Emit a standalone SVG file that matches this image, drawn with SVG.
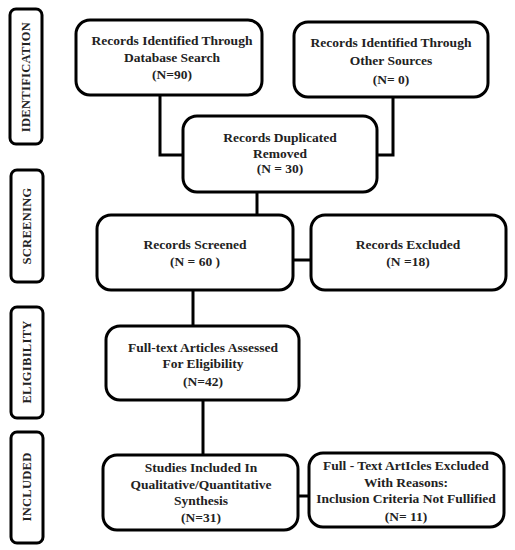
<svg xmlns="http://www.w3.org/2000/svg" width="515" height="550" viewBox="0 0 515 550">
<style>
.box{fill:#fff;stroke:#000;stroke-width:3;}
.side{fill:#fff;stroke:#000;stroke-width:3;}
.c{fill:none;stroke:#000;stroke-width:3;}
text{font-family:"Liberation Serif","Times New Roman",serif;font-weight:bold;font-size:13.5px;fill:#222;text-anchor:middle;}
.st{font-size:12.5px;letter-spacing:0.3px;}
</style>
<rect width="515" height="550" fill="#fff"/>
<g id="connectors">
<polyline class="c" points="160,95 160,155 183,155"/>
<polyline class="c" points="393,97 393,155 377,155"/>
<line class="c" x1="257" y1="192" x2="257" y2="215"/>
<line class="c" x1="293" y1="260" x2="311" y2="260"/>
<line class="c" x1="193" y1="290" x2="193" y2="326"/>
<line class="c" x1="203" y1="400" x2="203" y2="455"/>
<line class="c" x1="298" y1="496" x2="309" y2="496"/>
</g>
<g id="stage-identification">
<rect class="side" x="10" y="9" width="32" height="135" rx="6"/>
<text class="st" transform="translate(30,77) rotate(-90)">IDENTIFICATION</text>
</g>
<g id="stage-screening">
<rect class="side" x="11" y="170" width="32" height="112" rx="6"/>
<text class="st" transform="translate(31,226) rotate(-90)">SCREENING</text>
</g>
<g id="stage-eligibility">
<rect class="side" x="11" y="307" width="32" height="111" rx="6"/>
<text class="st" transform="translate(31,362) rotate(-90)">ELIGIBILITY</text>
</g>
<g id="stage-included">
<rect class="side" x="11" y="432" width="32" height="111" rx="6"/>
<text class="st" transform="translate(31,487) rotate(-90)">INCLUDED</text>
</g>
<g id="n1">
<rect class="box" x="76" y="20" width="186" height="75" rx="14"/>
<text x="172" y="45">Records Identified Through</text>
<text x="172" y="62">Database Search</text>
<text x="172" y="79">(N=90)</text>
</g>
<g id="n2">
<rect class="box" x="294" y="22" width="194" height="75" rx="14"/>
<text x="391" y="47">Records Identified Through</text>
<text x="391" y="65">Other Sources</text>
<text x="391" y="84">(N= 0)</text>
</g>
<g id="n3">
<rect class="box" x="183" y="116" width="194" height="76" rx="14"/>
<text x="280" y="142">Records Duplicated</text>
<text x="280" y="158">Removed</text>
<text x="280" y="173">(N = 30)</text>
</g>
<g id="n4">
<rect class="box" x="97" y="215" width="196" height="75" rx="14"/>
<text x="195" y="249">Records Screened</text>
<text x="195" y="266">(N = 60 )</text>
</g>
<g id="n5">
<rect class="box" x="311" y="215" width="195" height="75" rx="14"/>
<text x="408" y="249">Records Excluded</text>
<text x="408" y="266">(N =18)</text>
</g>
<g id="n6">
<rect class="box" x="106" y="326" width="193" height="74" rx="14"/>
<text x="203" y="352">Full-text Articles Assessed</text>
<text x="203" y="368">For Eligibility</text>
<text x="203" y="386">(N=42)</text>
</g>
<g id="n7">
<rect class="box" x="103" y="455" width="195" height="75" rx="14"/>
<text x="201" y="472">Studies Included In</text>
<text x="201" y="489">Qualitative/Quantitative</text>
<text x="201" y="505">Synthesis</text>
<text x="201" y="522">(N=31)</text>
</g>
<g id="n8">
<rect class="box" x="309" y="453" width="195" height="74" rx="14"/>
<text x="406" y="470">Full - Text ArtIcles Excluded</text>
<text x="406" y="487">With Reasons:</text>
<text x="406" y="503">Inclusion Criteria Not Fullified</text>
<text x="406" y="521">(N= 11)</text>
</g>
</svg>
